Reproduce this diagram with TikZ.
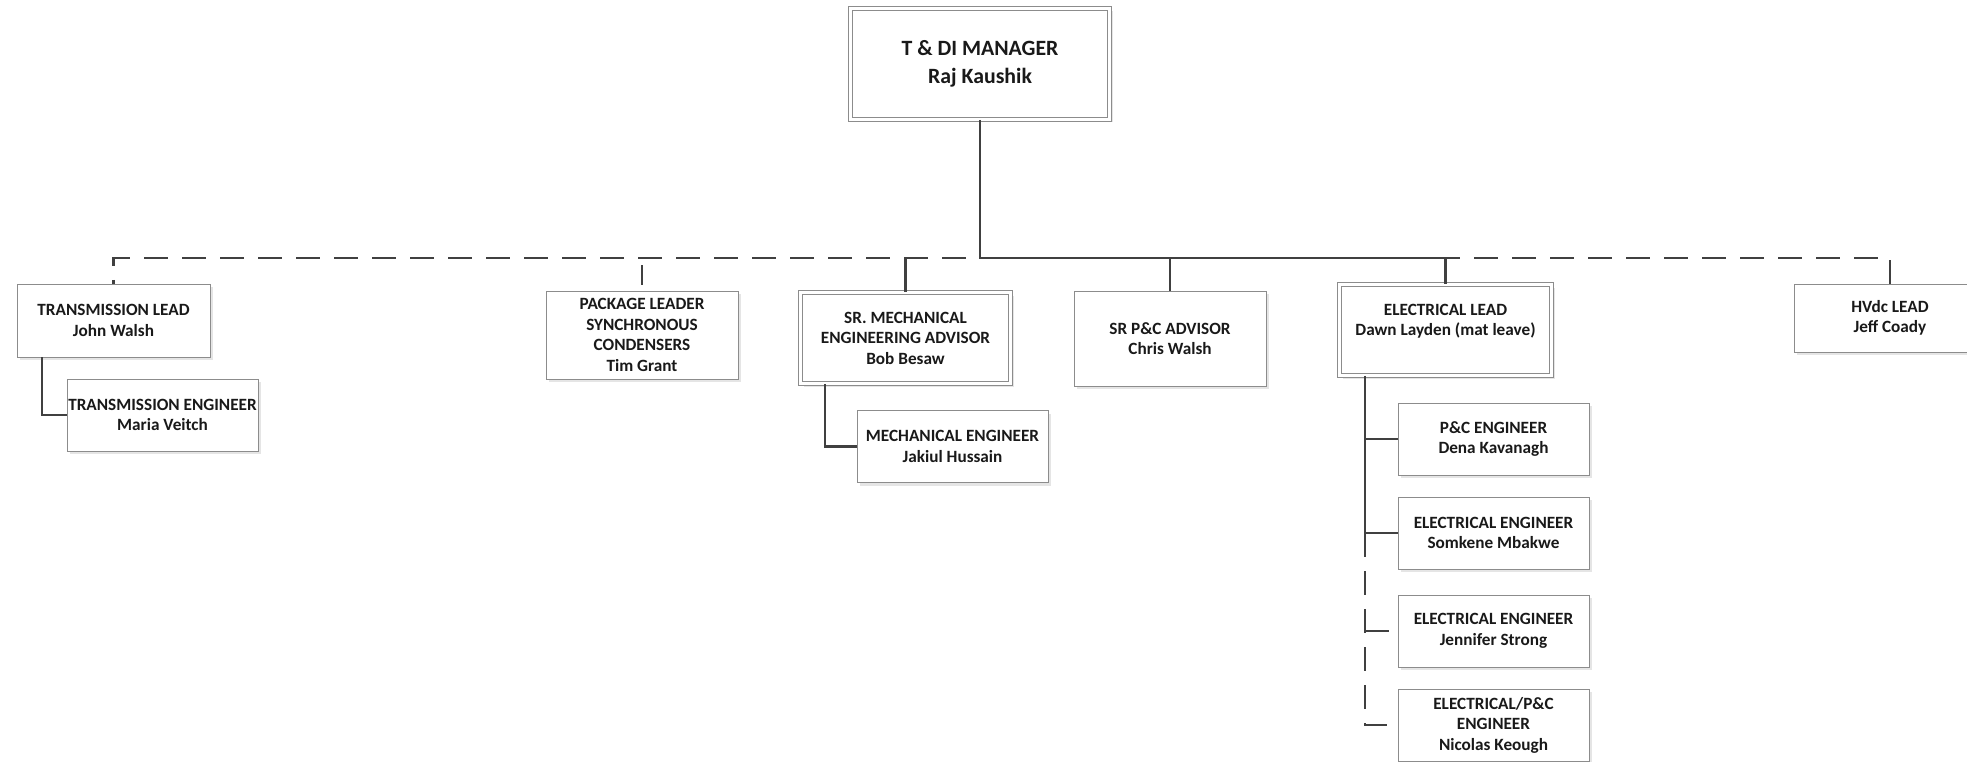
\documentclass[tikz,border=0pt]{standalone}
\usepackage{fontspec}
\setmainfont{Carlito}
\usetikzlibrary{shadows}
\definecolor{LineGrey}{HTML}{404040}
\definecolor{BoxGrey}{HTML}{8C8C8C}

\begin{document}
\begin{tikzpicture}[x=1pt,y=-1pt,
    box/.style={draw=BoxGrey,line width=0.8pt,fill=white,align=center,text=black!90,
      font=\bfseries\fontsize{17.2}{20.5}\selectfont,inner sep=1pt,
      drop shadow={shadow xshift=3pt,shadow yshift=-3pt,fill=black!10,opacity=1},
      minimum width=191pt,minimum height=72pt},
    dbox/.style={box,double=white,double distance=3.5pt},
    conn/.style={LineGrey,line width=2.4pt},
    dconn/.style={conn,dash pattern=on 24pt off 14pt}]
    \clip (0,0) rectangle (1967,762);

    \node[dbox,minimum width=259pt,minimum height=111pt,
      font=\bfseries\fontsize{21.8}{28}\selectfont] (mgr) at (980,64) {T \& DI MANAGER\\Raj Kaushik};
    \node[box,minimum width=193pt,minimum height=73pt] (tlead) at (113.5,320.5) {TRANSMISSION LEAD\\John Walsh};
    \node[box] (teng) at (162.5,415) {TRANSMISSION ENGINEER\\Maria Veitch};
    \node[box,minimum width=192pt,minimum height=88pt] (pkg) at (642,335) {PACKAGE LEADER\\SYNCHRONOUS\\CONDENSERS\\Tim Grant};
    \node[dbox,minimum width=210pt,minimum height=91pt] (mech) at (905.5,338) {SR. MECHANICAL\\ENGINEERING ADVISOR\\Bob Besaw};
    \node[box] (meng) at (952.5,446.5) {MECHANICAL ENGINEER\\Jakiul Hussain};
    \node[box,minimum width=192pt,minimum height=95pt] (pcadv) at (1170,338.5) {SR P\&C ADVISOR\\Chris Walsh};
    \node[dbox,minimum width=212pt,minimum height=91pt] (elead) at (1445.5,330) {ELECTRICAL LEAD\\Dawn Layden (mat leave)\\\mbox{}};
    \node[box,minimum width=192pt,minimum height=68pt] (hvdc) at (1890,318) {HVdc LEAD\\Jeff Coady};
    \node[box] (pceng) at (1493.5,439) {P\&C ENGINEER\\Dena Kavanagh};
    \node[box] (eeng1) at (1493.5,533) {ELECTRICAL ENGINEER\\Somkene Mbakwe};
    \node[box] (eeng2) at (1493.5,631) {ELECTRICAL ENGINEER\\Jennifer Strong};
    \node[box] (epceng) at (1493.5,725) {ELECTRICAL/P\&C\\ENGINEER\\Nicolas Keough};

    \coordinate (bus) at (982,258);
    \coordinate (tspine) at ([xshift=-71.5pt]tlead.south);
    \coordinate (mspine) at ([xshift=-80.5pt]mech.south);
    \coordinate (espine) at ([xshift=-80.5pt]elead.south);

    % dotted-line reports
    \draw[dconn] (hvdc.north) |- (bus) -| (tlead.north);
    \draw[dconn,dash pattern=on 20pt off 14pt,dash phase=27pt] (pkg.north |- bus) -- (pkg.north);
    \draw[dconn] (espine |- eeng1.west) -- (espine |- epceng.west) -- ([xshift=-9pt]epceng.west);
    \draw[dconn] (espine |- eeng2.west) -- ([xshift=-9pt]eeng2.west);

    % direct reports
    \draw[conn] (mgr.south) -- (mgr.south |- bus) -| (elead.north);
    \draw[conn] (mech.north |- bus) -- (mech.north);
    \draw[conn] (pcadv.north |- bus) -- (pcadv.north);
    \draw[conn] (tspine) |- (teng.west);
    \draw[conn] (mspine) |- (meng.west);
    \draw[conn] (espine) |- (pceng.west);
    \draw[conn] (espine) |- (eeng1.west);
\end{tikzpicture}
\end{document}
